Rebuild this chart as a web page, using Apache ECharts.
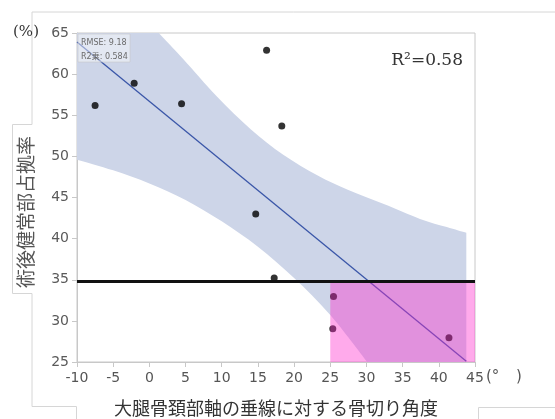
<!DOCTYPE html>
<html>
<head>
<meta charset="utf-8">
<script src="https://cdn.jsdelivr.net/npm/echarts@6.0.0/dist/echarts.min.js"></script>
<style>html,body{margin:0;padding:0;background:#fff;}#c{width:555px;height:419px;}</style>
</head>
<body>
<div id="c"></div>
<script>
// Observations
const pointX = [-7.5, -2.1, 4.45, 16.2, 18.3, 14.7, 17.25, 25.45, 25.35, 41.4];
const pointY = [56.2, 58.9, 56.4, 62.9, 53.7, 43.0, 35.2, 32.95, 29.05, 27.95];
// Fitted regression line (end points)
const fitX = [-10, 43.8];
const fitY = [63.9, 25.1];
// Confidence band edges, visible (unclipped) parts
const bandUpperX = [1.3, 4.7, 9.3, 14, 18.5, 23.2, 27.5, 32.4, 37.4, 41.1, 43.8];
const bandUpperY = [65, 61.8, 57.3, 53.3, 50.2, 47.7, 45.9, 44.2, 42.4, 41.4, 40.7];
const bandLowerX = [-10, -5, 0, 5, 10, 15, 20, 25, 30.1];
const bandLowerY = [49.6, 48.3, 46.7, 44.7, 42.1, 39.0, 35.2, 30.7, 25];
// Threshold line and highlighted region
const thresholdY = 34.8;
const regionX = [25, 45];
const regionY = [25, 34.8];
// Axis ranges
const xRange = [-10, 45];
const yRange = [25, 65];
const tickStep = 5;

const chart = echarts.init(document.getElementById('c'), null, {renderer: 'canvas'});
const labelFont = 'DejaVu Sans';
const axisGray = '#c8c8c8';

// smooth path segments through pixel points (Catmull-Rom -> cubic bezier)
function smoothSegs(pts) {
  let d = ' L' + pts[0][0] + ' ' + pts[0][1];
  for (let i = 0; i < pts.length - 1; i++) {
    const p0 = pts[Math.max(0, i - 1)], p1 = pts[i], p2 = pts[i + 1], p3 = pts[Math.min(pts.length - 1, i + 2)];
    const c1x = p1[0] + (p2[0] - p0[0]) / 6, c1y = p1[1] + (p2[1] - p0[1]) / 6;
    const c2x = p2[0] - (p3[0] - p1[0]) / 6, c2y = p2[1] - (p3[1] - p1[1]) / 6;
    d += ' C' + c1x + ' ' + c1y + ' ' + c2x + ' ' + c2y + ' ' + p2[0] + ' ' + p2[1];
  }
  return d;
}

const option = {
  animation: false,
  backgroundColor: '#ffffff',
  grid: {left: 77, right: 80, top: 33, bottom: 57, show: true, borderColor: axisGray, borderWidth: 1, backgroundColor: 'transparent'},
  xAxis: {
    type: 'value', min: xRange[0], max: xRange[1], interval: tickStep,
    axisLine: {show: true, onZero: false, lineStyle: {color: axisGray}},
    axisTick: {show: true, length: 5, lineStyle: {color: axisGray}},
    splitLine: {show: false},
    axisLabel: {color: '#555', fontFamily: labelFont, fontSize: 14, margin: 9}
  },
  yAxis: {
    type: 'value', min: yRange[0], max: yRange[1], interval: tickStep,
    axisLine: {show: true, onZero: false, lineStyle: {color: axisGray}},
    axisTick: {show: true, length: 5, lineStyle: {color: axisGray}},
    splitLine: {show: false},
    axisLabel: {color: '#5a5a5a', fontFamily: labelFont, fontSize: 14, margin: 8}
  },
  series: [
    {
      type: 'custom', clip: true, z: 1, silent: true,
      data: [[xRange[0], yRange[0]]],
      renderItem: function (params, api) {
        const up = bandUpperX.map((x, i) => api.coord([x, bandUpperY[i]]));
        const lo = [];
        for (let i = bandLowerX.length - 1; i >= 0; i--) lo.push(api.coord([bandLowerX[i], bandLowerY[i]]));
        const tl = api.coord([bandLowerX[0], yRange[1]]);
        const br = api.coord([bandUpperX[bandUpperX.length - 1], yRange[0]]);
        const d = 'M' + tl[0] + ' ' + tl[1] + smoothSegs(up) + ' L' + br[0] + ' ' + br[1] + smoothSegs(lo) + ' Z';
        return {type: 'path', shape: {pathData: d}, style: {fill: 'rgb(205,213,232)'}};
      }
    },
    {
      type: 'line', z: 2, silent: true, symbol: 'none',
      data: fitX.map((x, i) => [x, fitY[i]]),
      lineStyle: {color: '#3a56a8', width: 1.3}
    },
    {
      type: 'scatter', z: 3, silent: true, symbolSize: 7,
      data: pointX.map((x, i) => [x, pointY[i]]),
      itemStyle: {color: '#000000'}
    },
    {
      type: 'custom', clip: true, z: 4, silent: true,
      data: [[regionX[0], regionY[0]]],
      renderItem: function (params, api) {
        const p0 = api.coord([regionX[0], regionY[1]]);
        const p1 = api.coord([regionX[1], regionY[0]]);
        return {type: 'rect', shape: {x: p0[0], y: p0[1], width: p1[0] - p0[0], height: p1[1] - p0[1]},
          style: {fill: 'rgba(255,43,205,0.4)'}};
      }
    },
    {
      type: 'line', z: 5, silent: true, symbol: 'none',
      data: [[xRange[0], thresholdY], [xRange[1], thresholdY]],
      lineStyle: {color: '#111111', width: 3}
    }
  ],
  graphic: [
    {type: 'polyline', silent: true, z: 0, shape: {points: [[555, 12], [32, 12], [32, 124.5], [12.5, 124.5], [12.5, 293.5], [32, 293.5], [32, 406.5], [76.5, 406.5], [76.5, 419]]},
      style: {stroke: '#d6d6d6', fill: null, lineWidth: 1}},
    {type: 'polyline', silent: true, z: 0, shape: {points: [[555, 407.5], [478.5, 407.5], [478.5, 419]]},
      style: {stroke: '#d6d6d6', fill: null, lineWidth: 1}},
    {type: 'rect', silent: true, z: 10, shape: {x: 78, y: 34, width: 52, height: 28},
      style: {fill: 'rgba(255,255,255,0.45)', stroke: 'rgba(200,200,200,0.6)', lineWidth: 1}},
    {type: 'text', silent: true, z: 11, x: 81, y: 42.5,
      style: {text: 'RMSE: 9.18', font: '8px "DejaVu Sans"', fill: '#6a6a6a', textVerticalAlign: 'middle'}},
    {type: 'text', silent: true, z: 11, x: 81, y: 56.5,
      style: {text: 'R2乗: 0.584', font: '8px "DejaVu Sans", "Noto Sans CJK JP"', fill: '#6a6a6a', textVerticalAlign: 'middle'}},
    {type: 'text', silent: true, z: 11, x: 463, y: 61,
      style: {text: 'R²=0.58', font: '17px "DejaVu Serif"', fill: '#333', textAlign: 'right', textVerticalAlign: 'middle'}},
    {type: 'text', silent: true, z: 11, x: 26, y: 32,
      style: {text: '(%)', font: '15px "DejaVu Serif"', fill: '#333', textAlign: 'center', textVerticalAlign: 'middle'}},
    {type: 'text', silent: true, z: 11, x: 486, y: 377,
      style: {text: '(°', font: '15px "DejaVu Sans"', fill: '#555', textAlign: 'left', textVerticalAlign: 'middle'}},
    {type: 'text', silent: true, z: 11, x: 516, y: 377,
      style: {text: ')', font: '15px "DejaVu Sans"', fill: '#555', textAlign: 'left', textVerticalAlign: 'middle'}},
    {type: 'text', silent: true, z: 11, x: 276, y: 408,
      style: {text: '大腿骨頚部軸の垂線に対する骨切り角度', font: '18px "Noto Sans CJK JP"', fill: '#333', textAlign: 'center', textVerticalAlign: 'middle'}},
    {type: 'text', silent: true, z: 11, x: 26, y: 212, rotation: Math.PI / 2,
      style: {text: '術後健常部占拠率', font: '19px "Noto Sans CJK JP"', fill: '#555', textAlign: 'center', textVerticalAlign: 'middle'}}
  ]
};
chart.setOption(option);
</script>
</body>
</html>
